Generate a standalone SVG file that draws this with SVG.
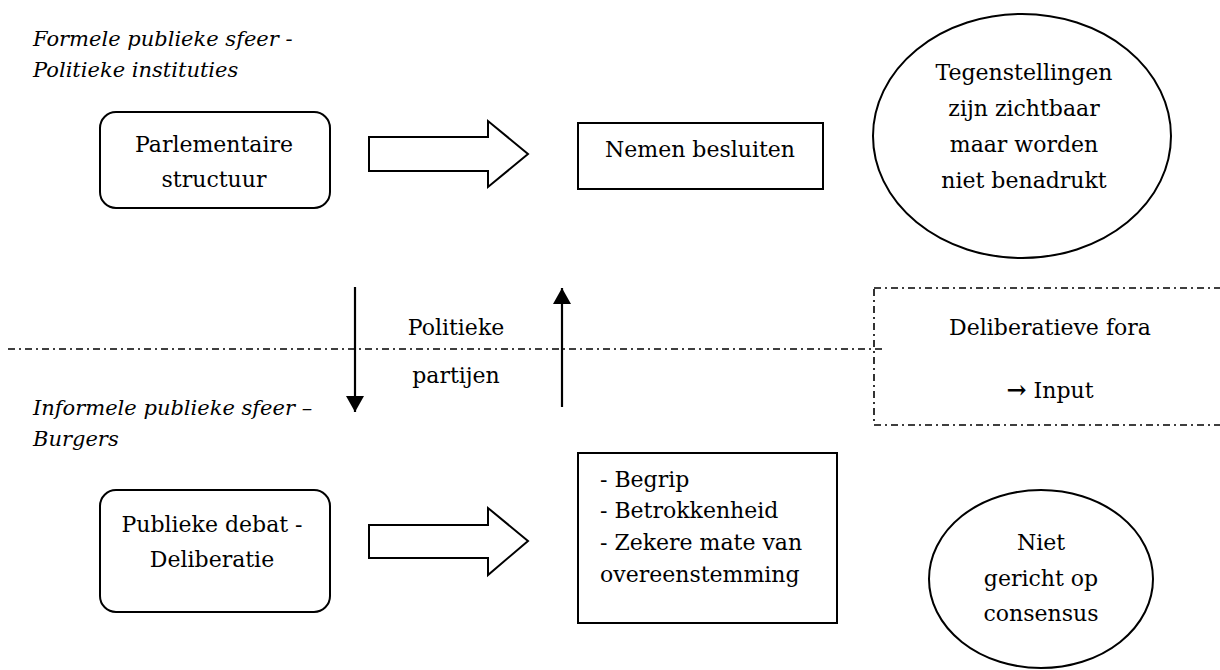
<svg xmlns="http://www.w3.org/2000/svg" width="1220" height="670" viewBox="0 0 1220 670">
<defs>
<style>
.t{font-family:"DejaVu Serif","Liberation Serif",serif;font-size:22px;fill:#000}
.i{font-family:"DejaVu Serif","Liberation Serif",serif;font-size:21px;font-style:italic;fill:#000}
.m{text-anchor:middle}
.box{fill:#fff;stroke:#000;stroke-width:2}
.dd{fill:none;stroke:#000;stroke-width:1.6;stroke-dasharray:7 4 2 4}
.ln{stroke:#000;stroke-width:2.2;fill:none}
</style>
<marker id="ah" markerUnits="userSpaceOnUse" markerWidth="22" markerHeight="18" refX="16" refY="9" orient="auto">
<path d="M0,0 L16,9 L0,18 z" fill="#000"/>
</marker>
</defs>
<rect width="1220" height="670" fill="#fff"/>

<g id="label-formeel">
<text class="i" x="33" y="46">Formele publieke sfeer -</text>
<text class="i" x="33" y="77">Politieke instituties</text>
</g>

<g id="parlementaire-structuur">
<rect class="box" x="100" y="112" width="230" height="96" rx="16"/>
<text class="t m" x="214" y="152">Parlementaire</text>
<text class="t m" x="214" y="187">structuur</text>
</g>

<g id="block-arrow-top">
<path class="box" d="M369,137 H488 V121 L528,154 L488,187 V171 H369 Z"/>
</g>

<g id="nemen-besluiten">
<rect class="box" x="578" y="123" width="245" height="66"/>
<text class="t m" x="700" y="157">Nemen besluiten</text>
</g>

<g id="tegenstellingen">
<ellipse class="box" cx="1022" cy="136" rx="149" ry="122"/>
<text class="t m" x="1024" y="80">Tegenstellingen</text>
<text class="t m" x="1024" y="116">zijn zichtbaar</text>
<text class="t m" x="1024" y="152">maar worden</text>
<text class="t m" x="1024" y="188">niet benadrukt</text>
</g>

<g id="deliberatieve-fora">
<rect class="dd" x="874" y="288" width="360" height="137"/>
<text class="t m" x="1050" y="335">Deliberatieve fora</text>
<text class="t m" x="1050" y="398"><tspan font-weight="bold" font-size="24px">→</tspan> Input</text>
</g>

<g id="politieke-partijen">
<text class="t m" x="456" y="335">Politieke</text>
<text class="t m" x="456" y="383">partijen</text>
</g>

<g id="label-informeel">
<text class="i" x="33" y="415">Informele publieke sfeer –</text>
<text class="i" x="33" y="446">Burgers</text>
</g>

<g id="publieke-debat">
<rect class="box" x="100" y="490" width="230" height="122" rx="16"/>
<text class="t m" x="212" y="532">Publieke debat -</text>
<text class="t m" x="212" y="567">Deliberatie</text>
</g>

<g id="block-arrow-bottom">
<path class="box" d="M369,525 H488 V508 L528,541 L488,575 V558 H369 Z"/>
</g>

<g id="resultaten">
<rect class="box" x="578" y="453" width="259" height="170"/>
<text class="t" x="600" y="487">- Begrip</text>
<text class="t" x="600" y="518">- Betrokkenheid</text>
<text class="t" x="600" y="550">- Zekere mate van</text>
<text class="t" x="600" y="582">overeenstemming</text>
</g>

<g id="niet-gericht">
<ellipse class="box" cx="1041" cy="579" rx="112" ry="89"/>
<text class="t m" x="1041" y="550">Niet</text>
<text class="t m" x="1041" y="586">gericht op</text>
<text class="t m" x="1041" y="621">consensus</text>
</g>

<g id="connectors">
<line class="dd" x1="8" y1="349" x2="885" y2="349"/>
<line class="ln" x1="355" y1="287" x2="355" y2="412" marker-end="url(#ah)"/>
<line class="ln" x1="562" y1="407" x2="562" y2="288" marker-end="url(#ah)"/>
</g>
</svg>
